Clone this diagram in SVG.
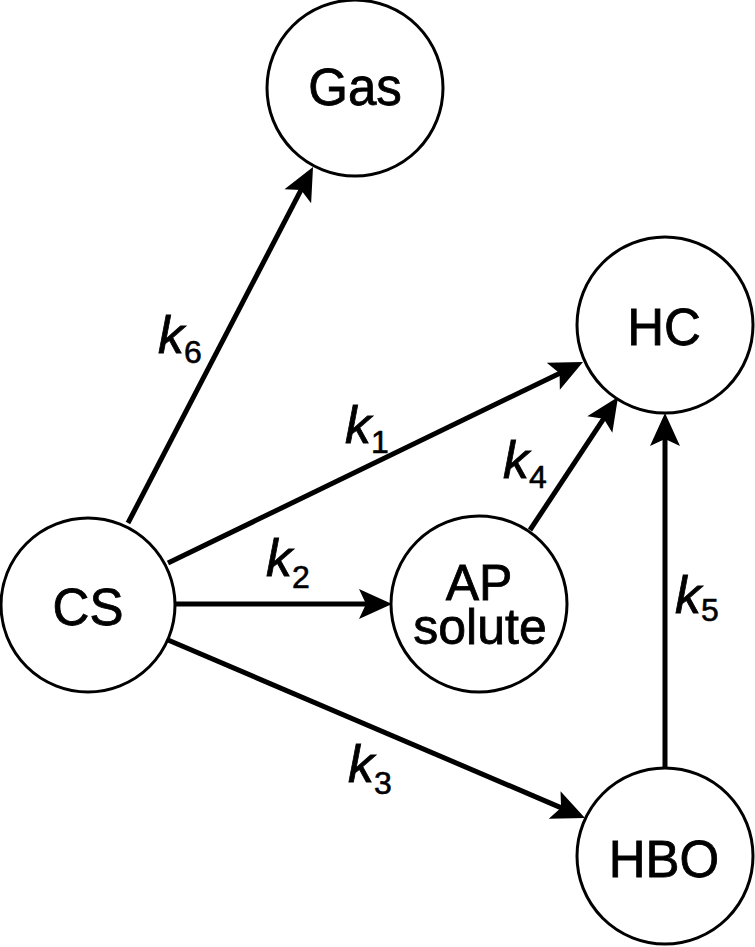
<svg xmlns="http://www.w3.org/2000/svg" width="755" height="947" viewBox="0 0 755 947">
  <defs>
    <style>
      .node circle { fill: #fff; stroke: #000; stroke-width: 3; }
      .node text { font-family: "Liberation Sans", Arial, sans-serif; font-size: 51px; fill: #000; stroke: #000; stroke-width: 0.8; text-anchor: middle; }
      .node text.two { font-size: 50px; }
      .edge line { stroke: #000; stroke-width: 5; marker-end: url(#arrow); }
      .lbl { font-family: "Liberation Sans", Arial, sans-serif; font-size: 52px; font-style: italic; fill: #000; stroke: #000; stroke-width: 0.8; }
      .lbl tspan.sub { font-size: 32px; font-style: normal; stroke-width: 0.6; }
    </style>
    <!-- filled arrowhead with a shallow notch; tip sits 20px beyond the line end -->
    <marker id="arrow" markerUnits="userSpaceOnUse" viewBox="-20 -18 44 36" refX="0" refY="0" markerWidth="44" markerHeight="36" orient="auto">
      <path d="M20,0 L-13,-15 L-6,0 L-13,15 Z" fill="#000"/>
    </marker>
  </defs>

  <!-- reaction arrows -->
  <g id="connectors" class="edge">
    <line id="e-k6" x1="128" y1="523" x2="303.8" y2="184.7"/>
    <line id="e-k1" x1="168" y1="563" x2="565" y2="370.7"/>
    <line id="e-k2" x1="176" y1="604" x2="372" y2="604"/>
    <line id="e-k3" x1="168" y1="640" x2="566.6" y2="810.1"/>
    <line id="e-k4" x1="530" y1="530" x2="607" y2="413.7"/>
    <line id="e-k5" x1="665" y1="768" x2="665" y2="433"/>
  </g>

  <!-- rate constant labels -->
  <g id="labels">
    <text class="lbl" x="158" y="353">k<tspan class="sub" dy="10">6</tspan></text>
    <text class="lbl" x="345" y="443">k<tspan class="sub" dy="10">1</tspan></text>
    <text class="lbl" x="266" y="576">k<tspan class="sub" dy="12">2</tspan></text>
    <text class="lbl" x="348" y="782">k<tspan class="sub" dy="12">3</tspan></text>
    <text class="lbl" x="503" y="478">k<tspan class="sub" dy="10">4</tspan></text>
    <text class="lbl" x="675" y="613">k<tspan class="sub" dy="8">5</tspan></text>
  </g>

  <!-- species -->
  <g id="gas" class="node">
    <circle cx="355" cy="88" r="88"/>
    <text x="355" y="105">Gas</text>
  </g>
  <g id="hc" class="node">
    <circle cx="665" cy="325" r="88"/>
    <text x="664" y="345">HC</text>
  </g>
  <g id="cs" class="node">
    <circle cx="88" cy="605" r="87"/>
    <text x="88" y="625">CS</text>
  </g>
  <g id="ap-solute" class="node">
    <circle cx="479" cy="604" r="88"/>
    <text class="two" x="479" y="600">AP</text>
    <text class="two" x="480" y="644">solute</text>
  </g>
  <g id="hbo" class="node">
    <circle cx="665" cy="856" r="88"/>
    <text x="664" y="877">HBO</text>
  </g>
</svg>
